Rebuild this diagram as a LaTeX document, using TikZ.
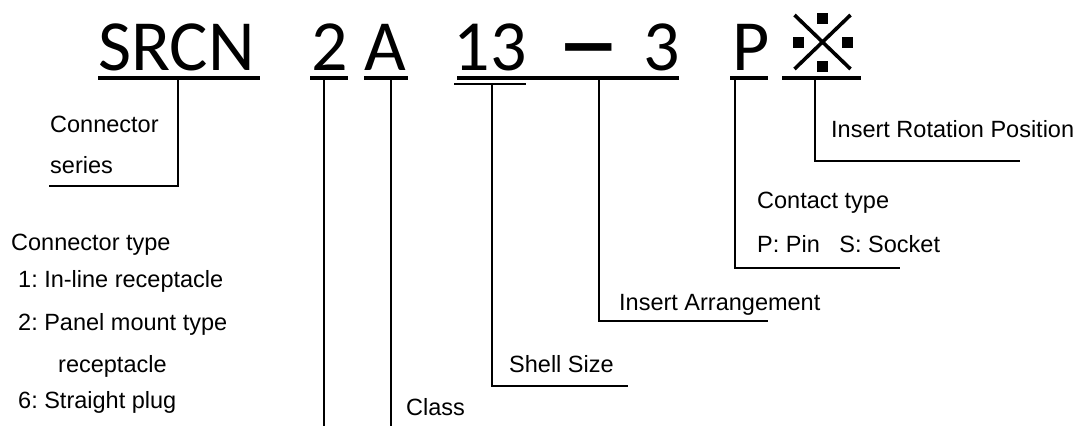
\documentclass[tikz,border=0pt]{standalone}
\usepackage{fontspec}
\usetikzlibrary{calc}
\setmainfont{Liberation Sans}
\newfontfamily\bigfont{Carlito}
\frenchspacing
\begin{document}
\begin{tikzpicture}[x=1pt,y=-1pt,
  code/.style={inner sep=0pt, anchor=base, font=\bigfont\fontsize{72}{72}\selectfont},
  lbl/.style={inner sep=0pt, anchor=base west, font=\fontsize{23.5}{28}\selectfont},
  uline/.style={line width=3.5pt},
  thinline/.style={line width=2.2pt},
  leader/.style={line width=1.8pt}]
\useasboundingbox (0,0) rectangle (1081,426);
% code characters
\node[code] (srcn) at (176.5,70) {SRCN};
\node[code] (two) at (330,70) {2};
\node[code] (a) at (385.5,70) {A};
\node[code] (thirteen) at (490,70) {13};
\node[code] (dash) at (589,70) {\raisebox{-11pt}{\scalebox{1.8}[1.7]{–}}};
\node[code] (three) at (661.5,70) {3};
\node[code] (p) at (751,70) {P};
% reference mark
\coordinate (rm) at (822.5,42);
\draw[line width=3.6pt] ($(rm)+(-28,-27)$) -- ($(rm)+(28,27)$);
\draw[line width=3.6pt] ($(rm)+(28,-27)$) -- ($(rm)+(-28,27)$);
\fill ($(rm)+(-5.5,-29)$) rectangle ($(rm)+(5.5,-18)$);
\fill ($(rm)+(-5.5,19)$) rectangle ($(rm)+(5.5,30)$);
\fill ($(rm)+(-30,-5)$) rectangle ($(rm)+(-19,6)$);
\fill ($(rm)+(19.5,-5)$) rectangle ($(rm)+(30.5,6)$);
% underline coordinates
\coordinate (u1a) at (98,78);  \coordinate (u1b) at (260,78);
\coordinate (u2a) at (310,78); \coordinate (u2b) at (348,78);
\coordinate (u3a) at (364,78); \coordinate (u3b) at (408,78);
\coordinate (u4a) at (457,78); \coordinate (u4b) at (679,78);
\coordinate (u5a) at (454,84); \coordinate (u5b) at (526,84);
\coordinate (u6a) at (730,78); \coordinate (u6b) at (768,78);
\coordinate (u7a) at (782,78); \coordinate (u7b) at (861,78);
\draw[uline] (u1a) -- (u1b);
\draw[uline] (u2a) -- (u2b);
\draw[uline] (u3a) -- (u3b);
\draw[uline] (u4a) -- (u4b);
\draw[thinline] (u5a) -- (u5b);
\draw[uline] (u6a) -- (u6b);
\draw[uline] (u7a) -- (u7b);
% labels
\node[lbl] (cs1) at (50,132) {Connector};
\node[lbl] (cs2) at (50,173) {series};
\node[lbl] (ct0) at (11,250) {Connector type};
\node[lbl] (ct1) at (18,287) {1: In-line receptacle};
\node[lbl] (ct2) at (18,330) {2: Panel mount type};
\node[lbl] (ct3) at (58,372) {receptacle};
\node[lbl] (ct4) at (18,408) {6: Straight plug};
\node[lbl] (cls) at (406,415) {Class};
\node[lbl] (shs) at (509,372) {Shell Size};
\node[lbl] (ia) at (619,310) {Insert Arrangement};
\node[lbl] (irp) at (831,137) {Insert Rotation Position};
\node[lbl] (cty) at (757,208) {Contact type};
\node[lbl] (pin) at (757,252) {P: Pin~~~S: Socket};
% leader end coordinates
\coordinate (l1t) at (178,78);  \coordinate (l1c) at (178,186); \coordinate (l1e) at (49,186);
\coordinate (l2t) at (324,78);  \coordinate (l2e) at (324,426);
\coordinate (l3t) at (391,78);  \coordinate (l3e) at (391,426);
\coordinate (l4t) at (492,84);  \coordinate (l4c) at (492,386); \coordinate (l4e) at (628,386);
\coordinate (l5t) at (599,78);  \coordinate (l5c) at (599,321); \coordinate (l5e) at (768,321);
\coordinate (l6t) at (735,78);  \coordinate (l6c) at (735,268); \coordinate (l6e) at (900,268);
\coordinate (l7t) at (815,78);  \coordinate (l7c) at (815,161); \coordinate (l7e) at (1020,161);
\draw[leader] (l1t) -- (l1c) -- (l1e);
\draw[leader] (l2t) -- (l2e);
\draw[leader] (l3t) -- (l3e);
\draw[leader] (l4t) -- (l4c) -- (l4e);
\draw[leader] (l5t) -- (l5c) -- (l5e);
\draw[leader] (l6t) -- (l6c) -- (l6e);
\draw[leader] (l7t) -- (l7c) -- (l7e);
\end{tikzpicture}
\end{document}
